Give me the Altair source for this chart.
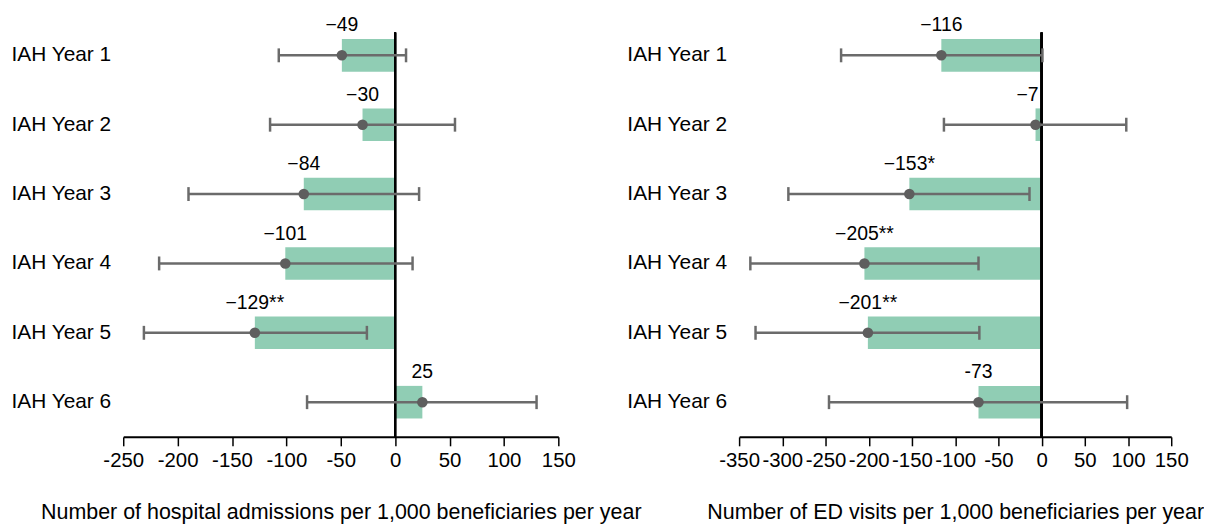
import altair as alt
import pandas as pd

years = ["IAH Year 1", "IAH Year 2", "IAH Year 3", "IAH Year 4", "IAH Year 5", "IAH Year 6"]

adm_est = [-49, -30, -84, -101, -129, 25]
adm_lo = [-107, -115, -190, -217, -231, -81]
adm_hi = [10, 55, 22, 16, -26, 130]
adm_lbl = ["\u221249", "\u221230", "\u221284", "\u2212101", "\u2212129**", "25"]
adm_ticks = [-250, -200, -150, -100, -50, 0, 50, 100, 150]
adm_title = "Number of hospital admissions per 1,000 beneficiaries per year"

ed_est = [-116, -7, -153, -205, -201, -73]
ed_lo = [-232, -113, -293, -337, -331, -246]
ed_hi = [1, 98, -14, -73, -72, 99]
ed_lbl = ["\u2212116", "\u22127", "\u2212153*", "\u2212205**", "\u2212201**", "-73"]
ed_ticks = [-350, -300, -250, -200, -150, -100, -50, 0, 50, 100, 150]
ed_title = "Number of ED visits per 1,000 beneficiaries per year"

GREEN = "#90CDB4"
GRAY = "#6B6B6B"
DOT = "#5E5E5E"
REG = "Liberation Sans, Arial"
H = 419


def panel(est, lo, hi, lbl, ticks, title, w):
    df = pd.DataFrame({"year": years, "est": est, "lo": lo, "hi": hi, "lbl": lbl,
                       "small": [abs(v) < 15 for v in est]})
    xs = alt.Scale(domain=[ticks[0], ticks[-1]], nice=False, zero=False)
    ys = alt.Scale(paddingInner=0.53, paddingOuter=0.265)
    yax = alt.Axis(title=None, domain=False, ticks=False, labelAlign="left",
                   labelPadding=113, labelFont=REG, labelFontSize=21,
                   labelColor="black", labelLimit=0)
    xax = alt.Axis(values=ticks, title=title, labelExpr="toString(datum.value)",
                   labelFlush=False, labelOverlap=False, grid=False)
    Y = alt.Y("year:N", sort=years, scale=ys, axis=yax)
    base = alt.Chart(df)
    bars = base.mark_bar(color=GREEN).encode(
        x=alt.X("est:Q", scale=xs, axis=xax), x2=alt.datum(0), y=Y)
    zero = base.mark_rule(color="black", strokeWidth=2).encode(
        x=alt.datum(0), y=alt.value(12), y2=alt.value(H))
    err = base.mark_rule(color=GRAY, strokeWidth=2.5).encode(
        x=alt.X("lo:Q"), x2="hi:Q", y=Y)
    cap_lo = base.mark_tick(color=GRAY, size=14, thickness=2.5, opacity=1).encode(
        x=alt.X("lo:Q"), y=Y)
    cap_hi = base.mark_tick(color=GRAY, size=14, thickness=2.5, opacity=1).encode(
        x=alt.X("hi:Q"), y=Y)
    dots = base.mark_circle(color=DOT, size=113, opacity=1).encode(
        x=alt.X("est:Q"), y=Y)
    txt = base.transform_filter("!datum.small").mark_text(
        font=REG, fontSize=19.5, color="black", baseline="alphabetic",
        align="center", dy=-24).encode(x=alt.X("est:Q"), y=Y, text="lbl:N")
    txt_small = base.transform_filter("datum.small").mark_text(
        font=REG, fontSize=19.5, color="black", baseline="alphabetic",
        align="center", dy=-24, dx=-8).encode(x=alt.X("est:Q"), y=Y, text="lbl:N")
    return alt.layer(bars, zero, err, cap_lo, cap_hi, dots, txt, txt_small).properties(
        width=w, height=H)


left = panel(adm_est, adm_lo, adm_hi, adm_lbl, adm_ticks, adm_title, 438)
right = panel(ed_est, ed_lo, ed_hi, ed_lbl, ed_ticks, ed_title, 435)

chart = alt.hconcat(left, right, spacing=182, bounds="flush").properties(
    padding={"left": 3, "top": 5, "right": 0, "bottom": 0}
).configure_view(strokeWidth=0).configure_axisX(
    domainColor="black", domainWidth=2, tickColor="black", tickWidth=1.5,
    tickSize=9, labelFont=REG, labelFontSize=20.5, labelColor="black",
    labelPadding=5, titleFont=REG, titleFontSize=21.6, titleFontWeight="normal",
    titleColor="black", titlePadding=31
)

chart.save("out.html", embed_options={"renderer": "svg", "actions": False})
